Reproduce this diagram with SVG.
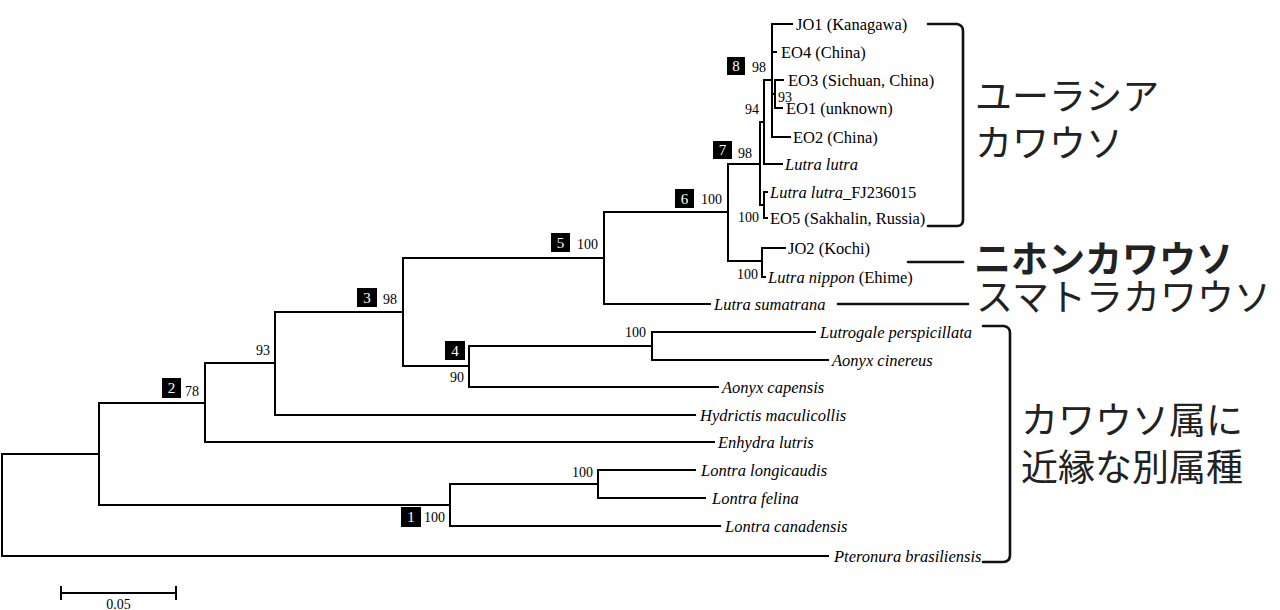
<svg xmlns="http://www.w3.org/2000/svg" width="1280" height="610" viewBox="0 0 1280 610">
<style>
.br{fill:none;stroke:#000;stroke-width:2;stroke-linecap:square}
.bk{fill:none;stroke:#111;stroke-width:2.6;stroke-linecap:round;stroke-linejoin:round}
.tip{font-family:"Liberation Serif","Times New Roman",serif;font-size:16.5px;fill:#000}
.it{font-style:italic}
.bs{font-family:"Liberation Serif","Times New Roman",serif;font-size:14px;fill:#000}
.box{fill:#000}
.bn{font-family:"Liberation Serif","Times New Roman",serif;font-size:15px;fill:#fff;text-anchor:middle}
.jp{font-family:"Noto Sans CJK JP","Noto Sans CJK SC",sans-serif;font-size:37px;fill:#222}
</style>
<rect width="1280" height="610" fill="#fff"/>
<g id="connectors">
<path class="br" d="M2 454V556M2 454H99M2 556H828"/>
<path class="br" d="M99 403V505M99 403H205M99 505H450"/>
<path class="br" d="M205 363V442M205 363H275M205 442H714"/>
<path class="br" d="M275 312V415M275 312H403M275 415H695"/>
<path class="br" d="M403 258V366M403 258H604M403 366H469"/>
<path class="br" d="M469 346V387M469 346H652M469 387H718"/>
<path class="br" d="M652 332V360M652 332H815M652 360H828"/>
<path class="br" d="M604 212V304M604 212H728M604 304H710"/>
<path class="br" d="M728 164V261M728 164H760M728 261H762"/>
<path class="br" d="M762 248V277M762 248H785M762 277H765"/>
<path class="br" d="M760 122V205M760 122H764M760 205H764"/>
<path class="br" d="M764 80V164M764 80H772M764 164H782"/>
<path class="br" d="M772 24V137M772 24H792M772 52H776M772 94H775M772 137H790"/>
<path class="br" d="M775 80V108M775 80H783M775 108H782"/>
<path class="br" d="M764 192V218M764 192H767M764 218H767"/>
<path class="br" d="M450 484V526M450 484H598M450 526H720"/>
<path class="br" d="M598 470V498M598 470H695M598 498H705"/>
</g>
<g id="brackets">
<path class="bk" d="M928 24H957Q963 25 963 31V220Q963 226 957 226H928"/>
<path class="bk" d="M983 326H1004Q1010 327 1010 333V555Q1010 562 1003 562H983"/>
<path class="bk" stroke-width="3" d="M908 262H963"/>
<path class="bk" stroke-width="3" d="M838 304H968"/>
</g>
<g id="tips">
<text class="tip" x="796" y="30">JO1 (Kanagawa)</text>
<text class="tip" x="781" y="58">EO4 (China)</text>
<text class="tip" x="788" y="86">EO3 (Sichuan, China)</text>
<text class="tip" x="786" y="114">EO1 (unknown)</text>
<text class="tip" x="793" y="143">EO2 (China)</text>
<text class="tip it" x="785" y="170">Lutra lutra</text>
<text class="tip" x="770" y="198"><tspan class="it">Lutra lutra</tspan>_FJ236015</text>
<text class="tip" x="770" y="224">EO5 (Sakhalin, Russia)</text>
<text class="tip" x="788" y="254">JO2 (Kochi)</text>
<text class="tip" x="768" y="283"><tspan class="it">Lutra nippon</tspan> (Ehime)</text>
<text class="tip it" x="714" y="310">Lutra sumatrana</text>
<text class="tip it" x="820" y="338">Lutrogale perspicillata</text>
<text class="tip it" x="832" y="366">Aonyx cinereus</text>
<text class="tip it" x="722" y="393">Aonyx capensis</text>
<text class="tip it" x="700" y="421">Hydrictis maculicollis</text>
<text class="tip it" x="718" y="448">Enhydra lutris</text>
<text class="tip it" x="701" y="476">Lontra longicaudis</text>
<text class="tip it" x="712" y="504">Lontra felina</text>
<text class="tip it" x="725" y="532">Lontra canadensis</text>
<text class="tip it" x="834" y="562">Pteronura brasiliensis</text>
</g>
<g id="support">
<rect class="box" x="727" y="57" width="18" height="18"/><text class="bn" x="736" y="71">8</text>
<text class="bs" x="752" y="72">98</text>
<rect class="box" x="713" y="141" width="19" height="18"/><text class="bn" x="722.5" y="155">7</text>
<text class="bs" x="738" y="158">98</text>
<text class="bs" x="745" y="114">94</text>
<text class="bs" x="778" y="102">93</text>
<text class="bs" x="738" y="222">100</text>
<rect class="box" x="675" y="189" width="19" height="19"/><text class="bn" x="684.5" y="204">6</text>
<text class="bs" x="701" y="204">100</text>
<text class="bs" x="737" y="279">100</text>
<rect class="box" x="551" y="233" width="19" height="19"/><text class="bn" x="560.5" y="248">5</text>
<text class="bs" x="577" y="249">100</text>
<rect class="box" x="357" y="288" width="20" height="19"/><text class="bn" x="367" y="303">3</text>
<text class="bs" x="383" y="304">98</text>
<rect class="box" x="445" y="341" width="20" height="19"/><text class="bn" x="455" y="356">4</text>
<text class="bs" x="450" y="382">90</text>
<text class="bs" x="625" y="337">100</text>
<text class="bs" x="256" y="355">93</text>
<rect class="box" x="162" y="378" width="19" height="20"/><text class="bn" x="171.5" y="393">2</text>
<text class="bs" x="185" y="396">78</text>
<rect class="box" x="401" y="507" width="20" height="20"/><text class="bn" x="411" y="522">1</text>
<text class="bs" x="424" y="522">100</text>
<text class="bs" x="572" y="477">100</text>
</g>
<g id="labels">
<text class="jp" x="975" y="110">ユーラシア</text>
<text class="jp" x="975" y="157">カワウソ</text>
<text class="jp" x="974" y="273" font-weight="bold">ニホンカワウソ</text>
<text class="jp" x="976" y="311">スマトラカワウソ</text>
<text class="jp" x="1021" y="434">カワウソ属に</text>
<text class="jp" x="1021" y="481">近縁な別属種</text>
</g>
<g id="scale">
<path class="br" d="M61 593H176M61 587V599M176 587V599"/>
<text class="bs" x="118.5" y="609" text-anchor="middle" font-size="13">0.05</text>
</g>
</svg>
